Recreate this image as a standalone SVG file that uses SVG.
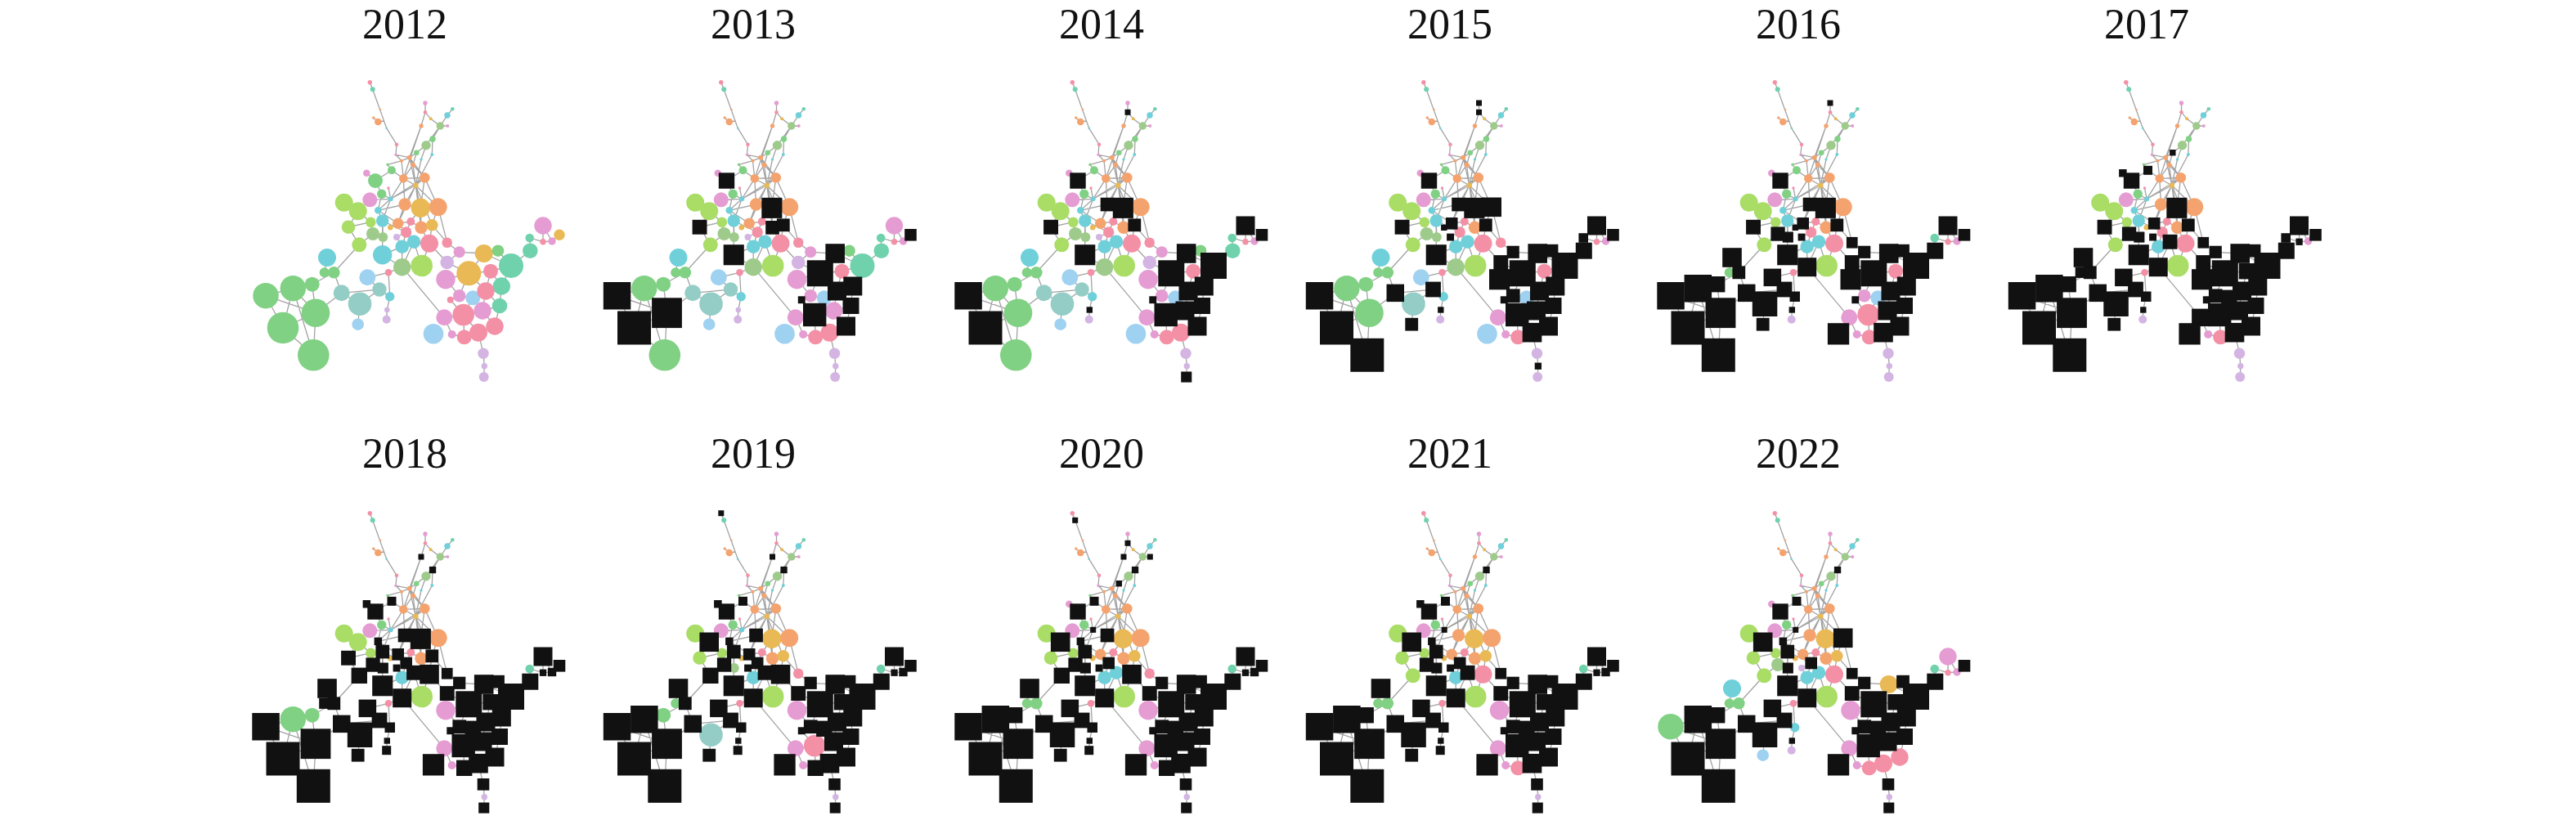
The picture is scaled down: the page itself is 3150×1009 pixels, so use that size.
<svg xmlns="http://www.w3.org/2000/svg" xmlns:xlink="http://www.w3.org/1999/xlink" width="3150" height="1009" viewBox="0 0 3150 1009">
<style>
.e{fill:none;stroke:#a3a3a3;stroke-width:1.3}
.pk{fill:#f490a6}.or{fill:#e59cd2}.og{fill:#f5a36e}.gd{fill:#e9b955}.gr{fill:#80d184}.lm{fill:#a9dd66}.sg{fill:#9ecb8b}.tl{fill:#6fd2ad}.cy{fill:#6fd0da}.lb{fill:#9fd1f1}.lv{fill:#d3b4e2}.gt{fill:#94cdc6}
.t{font-family:"Liberation Serif","Times New Roman",serif;font-size:52px;fill:#111;text-anchor:middle}
.sq{fill:#111}
</style>
<defs>
<g id="edges">
<path class="e" d="M452.3 100.7L455.7 109.3L472.7 156.7L485 176.7L484 189.3L500.7 192.7M484 189.3L491 196.7M456.7 144L462.3 149L469.5 148
M520 126L520 137.3L526.7 145.3L538.3 154L547 141L553.3 133.3M538.3 154L547.3 154M520 137.3L515 154L500.7 192.7M515 154L493.3 218.3
M538.3 154L529 170L528.3 189L508.3 226.7M538.3 154L521 177.7L515 195L508.3 226.7M521 177.7L509.3 186.7L505 201.7M509.3 186.7L500.7 192.7
M491 196.7L500.7 192.7L505 201.7M491 196.7L493.3 218.3M505 201.7L493.3 218.3M505 201.7L508.3 226.7M500.7 192.7L508.3 226.7M500.7 192.7L519.3 217.3M505 201.7L519.3 217.3
M493.3 218.3L519.3 217.3L508.3 226.7L493.3 218.3M491 196.7L474 201.3L479 208.3L493.3 218.3M479 208.3L459 221L448.3 211.7
M459 221L466.7 237.3L477.7 243.3L493.3 218.3M477.7 243.3L519.3 217.3M477.7 243.3L508.3 226.7M475 230L477.7 243.3M452.3 244.3L477.7 243.3
M466.7 237.3L462.3 257.3L467.7 270M477.7 243.3L462.3 257.3M477.7 243.3L467.7 270
M508.3 226.7L495 250M508.3 226.7L514.3 254.3M508.3 226.7L535.7 253.3M519.3 217.3L514.3 254.3M519.3 217.3L535.7 253.3M493.3 218.3L495 250
M508.3 226.7L486.7 273.3M508.3 226.7L515 278.3M508.3 226.7L528.3 275.3M462.3 257.3L495 250L514.3 254.3L535.7 253.3M462.3 257.3L486.7 273.3
M495 250L486.7 273.3L502.3 271L515 278.3L528.3 275.3M514.3 254.3L515 278.3M535.7 253.3L528.3 275.3M514.3 254.3L502.3 271
M467.7 270L496.7 284M486.7 273.3L496.7 284L502.3 271M477.3 278.3L486.7 273.3M485 290L496.7 284M496.7 284L491.7 301.7L506 295.7L496.7 284
M515 278.3L525 297.7L528.3 275.3M528.3 275.3L546.7 296.7L535.7 253.3M506 295.7L525 297.7M491.7 301.7L491.7 326.7L506 295.7M506 295.7L515.7 325L525 297.7
M467.7 270L467.7 311.7L491.7 301.7M467.7 270L468.3 290L456 286L453.3 271.7L437.7 258.3L420.7 247.7M437.7 258.3L426 277.7L453.3 271.7M426 277.7L439.3 299.3L456 286M485 290L491.7 301.7
M546.7 296.7L561.7 308.3L591.7 310L609 306.7M591.7 310L625 325L609 306.7M625 325L648.3 306.7L647.7 291L664 295.7L664 276M664 295.7L675 295L684 287.3M664 276L675 295
M561.7 308.3L546.7 321L573.3 334.3L591.7 310M525 297.7L546.7 321M573.3 334.3L600 331.7L625 325M600 331.7L613.3 350L625 325M573.3 334.3L545 341.7
M573.3 334.3L594 356L600 331.7M594 356L613.3 350L611 374L594 356M573.3 334.3L561.7 361.7L578.3 364.3L594 356M594 356L590 380L611 374M590 380L605 399L611 374
M566.7 385L590 380M566.7 385L578.3 364.3M561.7 361.7L550.7 366.7L566.7 385M545 341.7L561.7 361.7M566.7 385L543.3 388.3M566.7 385L567.7 412.3L585 406.7L566.7 385
M585 406.7L605 399M585 406.7L591 432.3L592.3 447.7L591.7 461M543.3 388.3L552.7 409L567.7 412.3M491.7 326.7L543.3 388.3
M491.7 326.7L475 333.3L449.3 339.3L464 354M491.7 326.7L467.7 311.7M515.7 325L491.7 326.7M439.3 299.3L408.3 333.3L396.7 333.3M400 315L396.7 333.3
M408.3 333.3L417.7 358.3L464 354L440 371.7L417.7 358.3M464 354L476.7 362.7L473.3 379L472.7 390.7M475 333.3L476.7 362.7M440 371.7L437.7 396.7M417.7 358.3L386 382.7
M408.3 333.3L381.7 347.7L358.3 352.7L325 361.7M358.3 352.7L386 382.7L381.7 347.7M358.3 352.7L346 401L325 361.7M386 382.7L346 401M386 382.7L383.3 434.3L346 401M358.3 352.7L383.3 434.3M325 361.7L386 382.7"/>
</g>
<g id="nodes">
<circle cx="452.3" cy="100.7" r="2.7" class="pk"/><circle cx="455.7" cy="109.3" r="3" class="tl"/><circle cx="465" cy="134" r="1.3" class="og"/><circle cx="456.7" cy="144" r="1.7" class="og"/><circle cx="462.3" cy="149" r="4.3" class="og"/><circle cx="472.7" cy="156.7" r="1.3" class="cy"/><circle cx="485" cy="176.7" r="2.3" class="pk"/><circle cx="484" cy="189.3" r="1.7" class="or"/>
<circle cx="520" cy="126" r="2.7" class="or"/><circle cx="520" cy="137.3" r="2.3" class="pk"/><circle cx="526.7" cy="145.3" r="2" class="gd"/><circle cx="553.3" cy="133.3" r="2.3" class="tl"/><circle cx="547" cy="141" r="3.7" class="cy"/><circle cx="538.3" cy="154" r="4.7" class="sg"/><circle cx="547.3" cy="154" r="2" class="or"/><circle cx="515" cy="154" r="2.7" class="og"/>
<circle cx="529" cy="170" r="3.7" class="gr"/><circle cx="521" cy="177.7" r="5.7" class="sg"/><circle cx="509.3" cy="186.7" r="3.3" class="gr"/><circle cx="528.3" cy="189" r="2" class="cy"/><circle cx="515" cy="195" r="1.7" class="cy"/><circle cx="500.7" cy="192.7" r="3" class="og"/><circle cx="491" cy="196.7" r="2" class="og"/><circle cx="505" cy="201.7" r="3" class="og"/>
<circle cx="474" cy="201.3" r="1.7" class="gr"/><circle cx="479" cy="208.3" r="5" class="gr"/><circle cx="448.3" cy="211.7" r="4.3" class="or"/><circle cx="459" cy="221" r="9" class="gr"/><circle cx="493.3" cy="218.3" r="5.3" class="og"/><circle cx="519.3" cy="217.3" r="6.3" class="og"/><circle cx="508.3" cy="226.7" r="3.3" class="gd"/><circle cx="475" cy="230" r="1.7" class="pk"/>
<circle cx="466.7" cy="237.3" r="5.7" class="gr"/><circle cx="452.3" cy="244.3" r="9" class="or"/><circle cx="477.7" cy="243.3" r="3" class="cy"/><circle cx="420.7" cy="247.7" r="11" class="lm"/><circle cx="437.7" cy="258.3" r="11" class="lm"/><circle cx="462.3" cy="257.3" r="4.3" class="cy"/><circle cx="495" cy="250" r="7.7" class="og"/><circle cx="514.3" cy="254.3" r="11.7" class="gd"/>
<circle cx="535.7" cy="253.3" r="11" class="og"/><circle cx="467.7" cy="270" r="7.7" class="cy"/><circle cx="453.3" cy="271.7" r="6.3" class="lm"/><circle cx="426" cy="277.7" r="8.3" class="lm"/><circle cx="486.7" cy="273.3" r="6.7" class="og"/><circle cx="502.3" cy="271" r="5" class="pk"/><circle cx="515" cy="278.3" r="7.7" class="og"/><circle cx="528.3" cy="275.3" r="7.3" class="gd"/>
<circle cx="477.3" cy="278.3" r="3.3" class="gd"/><circle cx="496.7" cy="284" r="6.7" class="pk"/><circle cx="456" cy="286" r="8" class="sg"/><circle cx="468.3" cy="290" r="6" class="sg"/><circle cx="485" cy="290" r="4" class="lv"/><circle cx="439.3" cy="299.3" r="9" class="lm"/><circle cx="491.7" cy="301.7" r="8.3" class="cy"/><circle cx="506" cy="295.7" r="8.3" class="cy"/>
<circle cx="525" cy="297.7" r="11" class="pk"/><circle cx="546.7" cy="296.7" r="6.3" class="pk"/><circle cx="561.7" cy="308.3" r="7" class="or"/><circle cx="467.7" cy="311.7" r="11.7" class="cy"/><circle cx="400" cy="315" r="11" class="cy"/><circle cx="546.7" cy="321" r="8.3" class="lv"/><circle cx="491.7" cy="326.7" r="10.7" class="sg"/><circle cx="515.7" cy="325" r="13.3" class="lm"/>
<circle cx="591.7" cy="310" r="11" class="gd"/><circle cx="609" cy="306.7" r="7.3" class="gr"/><circle cx="625" cy="325" r="15" class="tl"/><circle cx="648.3" cy="306.7" r="9.3" class="tl"/><circle cx="647.7" cy="291" r="5.3" class="tl"/><circle cx="664" cy="276" r="10.7" class="or"/><circle cx="684" cy="287.3" r="6.7" class="gd"/><circle cx="664" cy="295.7" r="3.7" class="pk"/><circle cx="675" cy="295" r="4.7" class="or"/>
<circle cx="475" cy="333.3" r="4.3" class="pk"/><circle cx="396.7" cy="333.3" r="6" class="gr"/><circle cx="408.3" cy="333.3" r="7.3" class="gr"/><circle cx="449.3" cy="339.3" r="10" class="lb"/><circle cx="573.3" cy="334.3" r="15" class="gd"/><circle cx="600" cy="331.7" r="9" class="pk"/><circle cx="545" cy="341.7" r="11.7" class="or"/><circle cx="613.3" cy="350" r="10.7" class="tl"/>
<circle cx="464" cy="354" r="8.7" class="gt"/><circle cx="417.7" cy="358.3" r="10" class="gt"/><circle cx="381.7" cy="347.7" r="9" class="gr"/><circle cx="358.3" cy="352.7" r="15.7" class="gr"/><circle cx="325" cy="361.7" r="15.7" class="gr"/><circle cx="440" cy="371.7" r="14.3" class="gt"/><circle cx="476.7" cy="362.7" r="5.7" class="cy"/>
<circle cx="561.7" cy="361.7" r="7.7" class="or"/><circle cx="578.3" cy="364.3" r="9" class="lb"/><circle cx="594" cy="356" r="10.7" class="pk"/><circle cx="550.7" cy="366.7" r="4" class="pk"/><circle cx="611" cy="374" r="9.3" class="tl"/><circle cx="386" cy="382.7" r="17.3" class="gr"/><circle cx="346" cy="401" r="19.3" class="gr"/>
<circle cx="473.3" cy="379" r="3.3" class="lv"/><circle cx="472.7" cy="390.7" r="5" class="lv"/><circle cx="437.7" cy="396.7" r="7.3" class="lb"/><circle cx="566.7" cy="385" r="13.3" class="pk"/><circle cx="590" cy="380" r="10.7" class="or"/><circle cx="543.3" cy="388.3" r="10" class="or"/><circle cx="605" cy="399" r="10.7" class="pk"/><circle cx="585" cy="406.7" r="11" class="pk"/>
<circle cx="567.7" cy="412.3" r="9" class="pk"/><circle cx="552.7" cy="409" r="5" class="or"/><circle cx="530" cy="408.3" r="12.3" class="lb"/><circle cx="383.3" cy="434.3" r="19.3" class="gr"/><circle cx="591" cy="432.3" r="6.7" class="lv"/><circle cx="592.3" cy="447.7" r="3.7" class="lv"/><circle cx="591.7" cy="461" r="6" class="lv"/>
</g>
<rect id="s1" x="448.8" y="97.2" width="7" height="7"/>
<rect id="s2" x="452.2" y="105.8" width="7" height="7"/>
<rect id="s9" x="516.5" y="122.5" width="7" height="7"/>
<rect id="s10" x="516.5" y="133.8" width="7" height="7"/>
<rect id="s15" x="543.8" y="150.5" width="7" height="7"/>
<rect id="s16" x="511.5" y="150.5" width="7" height="7"/>
<rect id="s17" x="524.9" y="165.9" width="8.3" height="8.3"/>
<rect id="s19" x="505.6" y="183" width="7.4" height="7.4"/>
<rect id="s26" x="473.5" y="202.8" width="11" height="11"/>
<rect id="s27" x="443.6" y="207" width="9.5" height="9.5"/>
<rect id="s28" x="449.3" y="211.3" width="19.4" height="19.4"/>
<rect id="s35" x="474.2" y="239.8" width="7" height="7"/>
<rect id="s37" x="425.9" y="246.5" width="23.6" height="23.6"/>
<rect id="s38" x="457.6" y="252.6" width="9.5" height="9.5"/>
<rect id="s39" x="486.7" y="241.7" width="16.7" height="16.7"/>
<rect id="s40" x="501.8" y="241.8" width="25.1" height="25.1"/>
<rect id="s41" x="523.9" y="241.5" width="23.6" height="23.6"/>
<rect id="s42" x="459.4" y="261.7" width="16.7" height="16.7"/>
<rect id="s44" x="417.1" y="268.8" width="17.9" height="17.9"/>
<rect id="s45" x="479.4" y="266" width="14.6" height="14.6"/>
<rect id="s47" x="506.7" y="270" width="16.7" height="16.7"/>
<rect id="s48" x="520.4" y="267.4" width="15.8" height="15.8"/>
<rect id="s49" x="473.6" y="274.6" width="7.4" height="7.4"/>
<rect id="s50" x="489.4" y="276.7" width="14.6" height="14.6"/>
<rect id="s51" x="447.4" y="277.4" width="17.3" height="17.3"/>
<rect id="s52" x="461.8" y="283.5" width="13.1" height="13.1"/>
<rect id="s53" x="480.6" y="285.6" width="8.9" height="8.9"/>
<rect id="s54" x="429.6" y="289.6" width="19.4" height="19.4"/>
<rect id="s56" x="497.1" y="286.8" width="17.9" height="17.9"/>
<rect id="s57" x="513.2" y="285.9" width="23.6" height="23.6"/>
<rect id="s58" x="539.9" y="289.9" width="13.7" height="13.7"/>
<rect id="s59" x="554.1" y="300.7" width="15.2" height="15.2"/>
<rect id="s60" x="455.2" y="299.2" width="25.1" height="25.1"/>
<rect id="s61" x="388.2" y="303.2" width="23.6" height="23.6"/>
<rect id="s62" x="537.8" y="312.1" width="17.9" height="17.9"/>
<rect id="s63" x="480.2" y="315.2" width="23" height="23"/>
<rect id="s65" x="579.9" y="298.2" width="23.6" height="23.6"/>
<rect id="s66" x="601.1" y="298.8" width="15.8" height="15.8"/>
<rect id="s67" x="609" y="309" width="32" height="32"/>
<rect id="s68" x="638.3" y="296.7" width="20" height="20"/>
<rect id="s69" x="641.9" y="285.2" width="11.6" height="11.6"/>
<rect id="s70" x="652.5" y="264.5" width="23" height="23"/>
<rect id="s71" x="676.7" y="280" width="14.6" height="14.6"/>
<rect id="s72" x="659.9" y="291.6" width="8.3" height="8.3"/>
<rect id="s73" x="669.8" y="289.8" width="10.4" height="10.4"/>
<rect id="s75" x="390.2" y="326.8" width="13.1" height="13.1"/>
<rect id="s76" x="400.4" y="325.4" width="15.8" height="15.8"/>
<rect id="s77" x="438.6" y="328.6" width="21.5" height="21.5"/>
<rect id="s78" x="557.3" y="318.3" width="32" height="32"/>
<rect id="s79" x="590.3" y="322" width="19.4" height="19.4"/>
<rect id="s80" x="532.5" y="329.2" width="25.1" height="25.1"/>
<rect id="s81" x="601.8" y="338.5" width="23" height="23"/>
<rect id="s82" x="454.6" y="344.6" width="18.8" height="18.8"/>
<rect id="s83" x="407" y="347.6" width="21.5" height="21.5"/>
<rect id="s84" x="372" y="338" width="19.4" height="19.4"/>
<rect id="s85" x="341.6" y="336" width="33.5" height="33.5"/>
<rect id="s86" x="308.3" y="345" width="33.5" height="33.5"/>
<rect id="s87" x="424.8" y="356.5" width="30.5" height="30.5"/>
<rect id="s88" x="470.5" y="356.5" width="12.5" height="12.5"/>
<rect id="s89" x="553.4" y="353.4" width="16.7" height="16.7"/>
<rect id="s90" x="568.6" y="354.6" width="19.4" height="19.4"/>
<rect id="s91" x="582.5" y="344.5" width="23" height="23"/>
<rect id="s92" x="546.3" y="362.3" width="8.9" height="8.9"/>
<rect id="s93" x="601" y="364" width="20" height="20"/>
<rect id="s94" x="367.6" y="364.3" width="36.8" height="36.8"/>
<rect id="s95" x="325.5" y="380.5" width="41" height="41"/>
<rect id="s96" x="469.6" y="375.3" width="7.4" height="7.4"/>
<rect id="s97" x="467.2" y="385.2" width="11" height="11"/>
<rect id="s98" x="429.8" y="388.8" width="15.8" height="15.8"/>
<rect id="s99" x="552.5" y="370.8" width="28.4" height="28.4"/>
<rect id="s100" x="578.5" y="368.5" width="23" height="23"/>
<rect id="s101" x="532.6" y="377.6" width="21.5" height="21.5"/>
<rect id="s102" x="593.5" y="387.5" width="23" height="23"/>
<rect id="s103" x="573.2" y="394.9" width="23.6" height="23.6"/>
<rect id="s104" x="558" y="402.6" width="19.4" height="19.4"/>
<rect id="s106" x="516.9" y="395.2" width="26.3" height="26.3"/>
<rect id="s107" x="362.8" y="413.8" width="41" height="41"/>
<rect id="s108" x="583.7" y="425" width="14.6" height="14.6"/>
<rect id="s109" x="588.2" y="443.6" width="8.3" height="8.3"/>
<rect id="s110" x="585.2" y="454.5" width="13.1" height="13.1"/>
</defs>
<rect width="3150" height="1009" fill="#fff"/>
<g id="y2012">
<text class="t" x="495" y="47">2012</text>
<g><use href="#edges"/><use href="#nodes"/></g>
</g>
<g id="y2013">
<text class="t" x="921" y="47">2013</text>
<g transform="translate(429.5,0)"><use href="#edges"/><use href="#nodes"/>
<g class="sq"><use href="#s28"/><use href="#s40"/><use href="#s47"/><use href="#s48"/><use href="#s44"/><use href="#s60"/><use href="#s71"/><use href="#s65"/><use href="#s78"/><use href="#s81"/><use href="#s91"/><use href="#s93"/><use href="#s92"/><use href="#s99"/><use href="#s102"/><use href="#s86"/><use href="#s94"/><use href="#s95"/></g></g>
</g>
<g id="y2014">
<text class="t" x="1347" y="47">2014</text>
<g transform="translate(859,0)"><use href="#edges"/><use href="#nodes"/>
<g class="sq"><use href="#s10"/><use href="#s28"/><use href="#s39"/><use href="#s40"/><use href="#s48"/><use href="#s44"/><use href="#s60"/><use href="#s70"/><use href="#s71"/><use href="#s65"/><use href="#s67"/><use href="#s78"/><use href="#s81"/><use href="#s91"/><use href="#s93"/><use href="#s100"/><use href="#s92"/><use href="#s99"/><use href="#s102"/><use href="#s96"/><use href="#s86"/><use href="#s95"/><use href="#s110"/></g></g>
</g>
<g id="y2015">
<text class="t" x="1773" y="47">2015</text>
<g transform="translate(1288.5,0)"><use href="#edges"/><use href="#nodes"/>
<g class="sq"><use href="#s9"/><use href="#s10"/><use href="#s28"/><use href="#s39"/><use href="#s40"/><use href="#s41"/><use href="#s48"/><use href="#s45"/><use href="#s49"/><use href="#s53"/><use href="#s44"/><use href="#s60"/><use href="#s70"/><use href="#s71"/><use href="#s69"/><use href="#s68"/><use href="#s59"/><use href="#s65"/><use href="#s66"/><use href="#s67"/><use href="#s62"/><use href="#s80"/><use href="#s78"/><use href="#s81"/><use href="#s91"/><use href="#s89"/><use href="#s92"/><use href="#s93"/><use href="#s99"/><use href="#s100"/><use href="#s102"/><use href="#s103"/><use href="#s109"/><use href="#s83"/><use href="#s82"/><use href="#s96"/><use href="#s98"/><use href="#s86"/><use href="#s95"/><use href="#s107"/></g></g>
</g>
<g id="y2016">
<text class="t" x="2199" y="47">2016</text>
<g transform="translate(1718,0)"><use href="#edges"/><use href="#nodes"/>
<g class="sq"><use href="#s9"/><use href="#s28"/><use href="#s39"/><use href="#s40"/><use href="#s48"/><use href="#s45"/><use href="#s49"/><use href="#s53"/><use href="#s44"/><use href="#s51"/><use href="#s52"/><use href="#s60"/><use href="#s63"/><use href="#s58"/><use href="#s59"/><use href="#s62"/><use href="#s80"/><use href="#s65"/><use href="#s66"/><use href="#s67"/><use href="#s68"/><use href="#s70"/><use href="#s71"/><use href="#s78"/><use href="#s81"/><use href="#s91"/><use href="#s92"/><use href="#s106"/><use href="#s93"/><use href="#s100"/><use href="#s102"/><use href="#s103"/><use href="#s61"/><use href="#s76"/><use href="#s83"/><use href="#s77"/><use href="#s82"/><use href="#s87"/><use href="#s88"/><use href="#s96"/><use href="#s98"/><use href="#s86"/><use href="#s85"/><use href="#s84"/><use href="#s94"/><use href="#s95"/><use href="#s107"/></g></g>
</g>
<g id="y2017">
<text class="t" x="2625" y="47">2017</text>
<g transform="translate(2147.5,0)"><use href="#edges"/><use href="#nodes"/>
<g class="sq"><use href="#s19"/><use href="#s27"/><use href="#s28"/><use href="#s26"/><use href="#s40"/><use href="#s48"/><use href="#s45"/><use href="#s53"/><use href="#s56"/><use href="#s44"/><use href="#s51"/><use href="#s52"/><use href="#s60"/><use href="#s63"/><use href="#s58"/><use href="#s59"/><use href="#s62"/><use href="#s80"/><use href="#s65"/><use href="#s66"/><use href="#s67"/><use href="#s68"/><use href="#s69"/><use href="#s70"/><use href="#s71"/><use href="#s72"/><use href="#s78"/><use href="#s79"/><use href="#s81"/><use href="#s91"/><use href="#s92"/><use href="#s89"/><use href="#s90"/><use href="#s93"/><use href="#s99"/><use href="#s100"/><use href="#s102"/><use href="#s103"/><use href="#s101"/><use href="#s106"/><use href="#s61"/><use href="#s75"/><use href="#s76"/><use href="#s83"/><use href="#s77"/><use href="#s82"/><use href="#s87"/><use href="#s88"/><use href="#s96"/><use href="#s98"/><use href="#s86"/><use href="#s85"/><use href="#s84"/><use href="#s94"/><use href="#s95"/><use href="#s107"/></g></g>
</g>
<g id="y2018">
<text class="t" x="495" y="572">2018</text>
<g transform="translate(0,527)"><use href="#edges"/><use href="#nodes"/>
<g class="sq"><use href="#s16"/><use href="#s17"/><use href="#s26"/><use href="#s27"/><use href="#s28"/><use href="#s39"/><use href="#s40"/><use href="#s48"/><use href="#s38"/><use href="#s42"/><use href="#s45"/><use href="#s53"/><use href="#s50"/><use href="#s56"/><use href="#s57"/><use href="#s58"/><use href="#s44"/><use href="#s54"/><use href="#s51"/><use href="#s52"/><use href="#s60"/><use href="#s63"/><use href="#s59"/><use href="#s62"/><use href="#s65"/><use href="#s66"/><use href="#s67"/><use href="#s68"/><use href="#s70"/><use href="#s71"/><use href="#s72"/><use href="#s73"/><use href="#s78"/><use href="#s79"/><use href="#s81"/><use href="#s91"/><use href="#s89"/><use href="#s90"/><use href="#s92"/><use href="#s93"/><use href="#s99"/><use href="#s100"/><use href="#s102"/><use href="#s103"/><use href="#s104"/><use href="#s106"/><use href="#s108"/><use href="#s110"/><use href="#s61"/><use href="#s75"/><use href="#s76"/><use href="#s83"/><use href="#s77"/><use href="#s82"/><use href="#s87"/><use href="#s88"/><use href="#s96"/><use href="#s97"/><use href="#s98"/><use href="#s86"/><use href="#s94"/><use href="#s95"/><use href="#s107"/></g></g>
</g>
<g id="y2019">
<text class="t" x="921" y="572">2019</text>
<g transform="translate(429.5,527)"><use href="#edges"/><use href="#nodes"/>
<g class="sq"><use href="#s1"/><use href="#s16"/><use href="#s17"/><use href="#s26"/><use href="#s27"/><use href="#s28"/><use href="#s39"/><use href="#s37"/><use href="#s38"/><use href="#s42"/><use href="#s45"/><use href="#s53"/><use href="#s50"/><use href="#s56"/><use href="#s57"/><use href="#s54"/><use href="#s51"/><use href="#s60"/><use href="#s63"/><use href="#s59"/><use href="#s62"/><use href="#s65"/><use href="#s66"/><use href="#s67"/><use href="#s68"/><use href="#s70"/><use href="#s71"/><use href="#s72"/><use href="#s73"/><use href="#s78"/><use href="#s79"/><use href="#s81"/><use href="#s91"/><use href="#s89"/><use href="#s90"/><use href="#s92"/><use href="#s93"/><use href="#s100"/><use href="#s102"/><use href="#s103"/><use href="#s104"/><use href="#s106"/><use href="#s108"/><use href="#s110"/><use href="#s61"/><use href="#s76"/><use href="#s83"/><use href="#s77"/><use href="#s82"/><use href="#s88"/><use href="#s96"/><use href="#s97"/><use href="#s98"/><use href="#s86"/><use href="#s85"/><use href="#s94"/><use href="#s95"/><use href="#s107"/></g></g>
</g>
<g id="y2020">
<text class="t" x="1347" y="572">2020</text>
<g transform="translate(859,527)"><use href="#edges"/><use href="#nodes"/>
<g class="sq"><use href="#s2"/><use href="#s10"/><use href="#s16"/><use href="#s15"/><use href="#s17"/><use href="#s19"/><use href="#s26"/><use href="#s28"/><use href="#s35"/><use href="#s39"/><use href="#s37"/><use href="#s38"/><use href="#s42"/><use href="#s53"/><use href="#s50"/><use href="#s57"/><use href="#s54"/><use href="#s51"/><use href="#s52"/><use href="#s60"/><use href="#s63"/><use href="#s59"/><use href="#s62"/><use href="#s65"/><use href="#s66"/><use href="#s67"/><use href="#s68"/><use href="#s70"/><use href="#s71"/><use href="#s72"/><use href="#s73"/><use href="#s78"/><use href="#s79"/><use href="#s81"/><use href="#s91"/><use href="#s89"/><use href="#s90"/><use href="#s92"/><use href="#s93"/><use href="#s99"/><use href="#s100"/><use href="#s102"/><use href="#s103"/><use href="#s104"/><use href="#s106"/><use href="#s108"/><use href="#s110"/><use href="#s61"/><use href="#s83"/><use href="#s77"/><use href="#s82"/><use href="#s87"/><use href="#s88"/><use href="#s96"/><use href="#s97"/><use href="#s98"/><use href="#s86"/><use href="#s85"/><use href="#s84"/><use href="#s94"/><use href="#s95"/><use href="#s107"/></g></g>
</g>
<g id="y2021">
<text class="t" x="1773" y="572">2021</text>
<g transform="translate(1288.5,527)"><use href="#edges"/><use href="#nodes"/>
<g class="sq"><use href="#s17"/><use href="#s26"/><use href="#s27"/><use href="#s28"/><use href="#s35"/><use href="#s37"/><use href="#s38"/><use href="#s42"/><use href="#s53"/><use href="#s50"/><use href="#s56"/><use href="#s58"/><use href="#s51"/><use href="#s52"/><use href="#s60"/><use href="#s63"/><use href="#s59"/><use href="#s62"/><use href="#s65"/><use href="#s66"/><use href="#s67"/><use href="#s68"/><use href="#s70"/><use href="#s71"/><use href="#s72"/><use href="#s73"/><use href="#s78"/><use href="#s79"/><use href="#s81"/><use href="#s91"/><use href="#s89"/><use href="#s90"/><use href="#s92"/><use href="#s93"/><use href="#s99"/><use href="#s100"/><use href="#s102"/><use href="#s103"/><use href="#s106"/><use href="#s108"/><use href="#s110"/><use href="#s61"/><use href="#s83"/><use href="#s77"/><use href="#s82"/><use href="#s87"/><use href="#s88"/><use href="#s96"/><use href="#s97"/><use href="#s98"/><use href="#s86"/><use href="#s85"/><use href="#s84"/><use href="#s94"/><use href="#s95"/><use href="#s107"/></g></g>
</g>
<g id="y2022">
<text class="t" x="2199" y="572">2022</text>
<g transform="translate(1718,527)"><use href="#edges"/><use href="#nodes"/>
<g class="sq"><use href="#s17"/><use href="#s26"/><use href="#s28"/><use href="#s35"/><use href="#s41"/><use href="#s37"/><use href="#s38"/><use href="#s42"/><use href="#s50"/><use href="#s52"/><use href="#s60"/><use href="#s63"/><use href="#s58"/><use href="#s59"/><use href="#s62"/><use href="#s66"/><use href="#s67"/><use href="#s68"/><use href="#s71"/><use href="#s78"/><use href="#s79"/><use href="#s81"/><use href="#s91"/><use href="#s89"/><use href="#s90"/><use href="#s92"/><use href="#s93"/><use href="#s99"/><use href="#s100"/><use href="#s106"/><use href="#s108"/><use href="#s110"/><use href="#s83"/><use href="#s77"/><use href="#s82"/><use href="#s87"/><use href="#s96"/><use href="#s85"/><use href="#s84"/><use href="#s94"/><use href="#s95"/><use href="#s107"/></g></g>
</g>
</svg>
